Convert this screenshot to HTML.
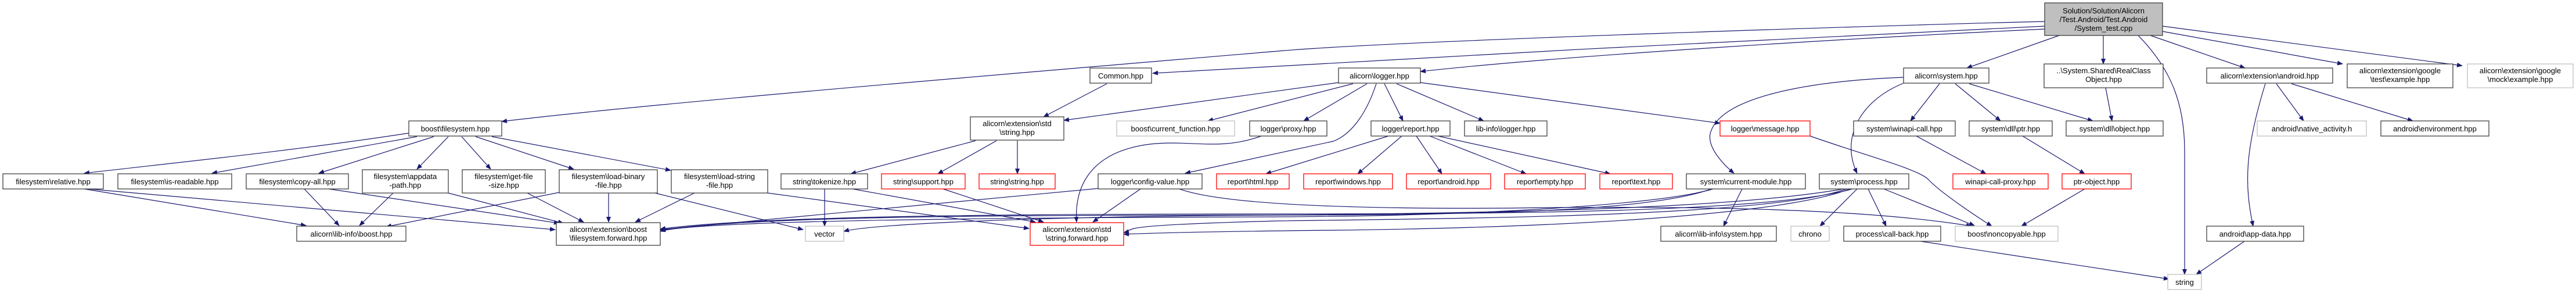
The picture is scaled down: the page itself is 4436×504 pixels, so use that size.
<!DOCTYPE html>
<html><head><meta charset="utf-8"><style>
html,body{margin:0;padding:0;background:#fff;}
svg{display:block;}
text{font-family:"Liberation Sans",sans-serif;font-size:13px;fill:#000;}
.b{fill:#fff;stroke:#404040;stroke-width:1.3;}
.g{fill:#fff;stroke:#bfbfbf;stroke-width:1.3;}
.r{fill:#fff;stroke:#ff0000;stroke-width:1.3;}
.m{fill:#bfbfbf;stroke:#404040;stroke-width:1.3;}
.e{fill:none;stroke:#191970;stroke-width:1.2;marker-end:url(#ah);}
</style></head><body>
<svg width="4436" height="504" viewBox="0 0 4436 504" xmlns="http://www.w3.org/2000/svg">
<defs><marker id="ah" markerWidth="10" markerHeight="8" refX="9" refY="4" orient="auto" markerUnits="userSpaceOnUse"><path d="M0,0 L10,4 L0,8 z" fill="#191970"/></marker></defs>
<g>
<!-- edges -->
<path class="e" d="M3521,37 C3300,42 2400,70 2200,88 C1700,130 1100,180 864,209"/>
<path class="e" d="M3521,45 C3300,55 2300,105 1985,126"/>
<path class="e" d="M3521,50 C3200,65 2700,95 2446,123"/>
<path class="e" d="M3546,61 L3387,117"/>
<path class="e" d="M3622,61 L3622,110"/>
<path class="e" d="M3682,61 C3740,120 3762,180 3762,260 L3762,472"/>
<path class="e" d="M3703,61 L3866,117"/>
<path class="e" d="M3724,54 L4034,110"/>
<path class="e" d="M3724,45 L4240,113"/>
<path class="e" d="M1906,144 L1797,201"/>
<path class="e" d="M2305,142 L1832,207"/>
<path class="e" d="M2330,144 L2080,208"/>
<path class="e" d="M2354,144 L2245,208"/>
<path class="e" d="M2370,144 C2355,190 2330,230 2296,243 L2041,298"/>
<path class="e" d="M2384,144 L2416,208"/>
<path class="e" d="M2405,144 L2555,208"/>
<path class="e" d="M2446,142 L2962,212"/>
<path class="e" d="M704,229 C500,260 300,280 145,298"/>
<path class="e" d="M718,235 L365,298"/>
<path class="e" d="M747,235 L549,298"/>
<path class="e" d="M772,235 L718,291"/>
<path class="e" d="M795,235 L845,291"/>
<path class="e" d="M819,235 L988,291"/>
<path class="e" d="M847,235 L1155,293"/>
<path class="e" d="M145,325 L527,388"/>
<path class="e" d="M152,325 L956,395"/>
<path class="e" d="M524,325 L584,388"/>
<path class="e" d="M566,325 L963,384"/>
<path class="e" d="M677,332 L619,388"/>
<path class="e" d="M772,332 L970,384"/>
<path class="e" d="M908,332 L1005,382"/>
<path class="e" d="M963,331 L665,390"/>
<path class="e" d="M1048,332 L1048,382"/>
<path class="e" d="M1128,332 L1383,395"/>
<path class="e" d="M1196,332 L1094,382"/>
<path class="e" d="M1322,332 L1772,393"/>
<path class="e" d="M1680,242 L1465,299"/>
<path class="e" d="M1716,242 L1615,299"/>
<path class="e" d="M1752,242 L1752,299"/>
<path class="e" d="M1420,325 L1420,389"/>
<path class="e" d="M1468,325 L1783,382"/>
<path class="e" d="M1624,325 L1797,382"/>
<path class="e" d="M1893,324 L1137,395"/>
<path class="e" d="M1964,325 L1882,382"/>
<path class="e" d="M2031,325 C2100,350 2300,360 2600,358 C3000,352 3250,365 3395,389"/>
<path class="e" d="M2172,234 C2100,260 2050,240 1980,248 C1870,262 1850,330 1854,382"/>
<path class="e" d="M2391,234 L2180,299"/>
<path class="e" d="M2414,234 L2338,299"/>
<path class="e" d="M2439,234 L2483,299"/>
<path class="e" d="M2462,234 L2628,299"/>
<path class="e" d="M2476,234 L2773,299"/>
<path class="e" d="M2947,325 C2850,360 2600,370 2200,370 C1700,370 1300,372 1137,396"/>
<path class="e" d="M2950,325 C2850,355 2500,372 2200,373 C1800,374 1200,378 1137,398"/>
<path class="e" d="M3000,325 L2968,389"/>
<path class="e" d="M3180,325 C3050,370 2600,375 2200,380 C1900,388 1960,395 1935,400"/>
<path class="e" d="M3185,325 C3100,360 2800,390 2300,396 C2100,398 2000,400 1935,403"/>
<path class="e" d="M3175,325 C3000,355 2700,365 2200,370 C1800,372 1500,385 1453,398"/>
<path class="e" d="M3190,325 C3050,365 2600,368 2200,368 C1700,368 1300,372 1137,394"/>
<path class="e" d="M3198,325 L3134,389"/>
<path class="e" d="M3217,325 L3248,389"/>
<path class="e" d="M3244,325 L3400,388"/>
<path class="e" d="M3117,234 C3220,270 3300,290 3320,308 C3340,330 3400,370 3430,389"/>
<path class="e" d="M3307,415 L3735,480"/>
<path class="e" d="M3278,133 C3100,140 2960,170 2945,230 C2940,255 2970,285 2986,298"/>
<path class="e" d="M3278,143 C3200,175 3170,240 3198,298"/>
<path class="e" d="M3340,144 L3290,208"/>
<path class="e" d="M3367,144 L3445,208"/>
<path class="e" d="M3391,144 L3604,208"/>
<path class="e" d="M3626,151 L3637,208"/>
<path class="e" d="M3300,234 L3420,299"/>
<path class="e" d="M3483,234 L3590,299"/>
<path class="e" d="M3590,325 L3481,389"/>
<path class="e" d="M3920,144 L3967,208"/>
<path class="e" d="M3946,144 L4155,208"/>
<path class="e" d="M3901,144 C3865,260 3865,320 3880,389"/>
<path class="e" d="M3865,415 L3782,472"/>
</g>
<g>
<!-- nodes -->
<rect class="m" x="3521" y="5" width="203" height="56"/>
<text x="3622.5" y="23" text-anchor="middle">Solution/Solution/Alicorn</text>
<text x="3622.5" y="38" text-anchor="middle">/Test.Android/Test.Android</text>
<text x="3622.5" y="53" text-anchor="middle">/System_test.cpp</text>

<rect class="b" x="1877" y="117" width="106" height="26"/><text x="1930" y="135" text-anchor="middle">Common.hpp</text>
<rect class="b" x="2305" y="117" width="141" height="26"/><text x="2375.5" y="135" text-anchor="middle">alicorn\logger.hpp</text>
<rect class="b" x="3278" y="117" width="147" height="26"/><text x="3351.5" y="135" text-anchor="middle">alicorn\system.hpp</text>
<rect class="b" x="3520" y="110" width="205" height="41"/><text x="3622.5" y="126" text-anchor="middle">..\System.Shared\RealClass</text><text x="3622.5" y="141" text-anchor="middle">Object.hpp</text>
<rect class="b" x="3800" y="117" width="217" height="26"/><text x="3908.5" y="135" text-anchor="middle">alicorn\extension\android.hpp</text>
<rect class="b" x="4042" y="110" width="182" height="41"/><text x="4133" y="126" text-anchor="middle">alicorn\extension\google</text><text x="4133" y="141" text-anchor="middle">\test\example.hpp</text>
<rect class="g" x="4249" y="110" width="182" height="41"/><text x="4340" y="126" text-anchor="middle">alicorn\extension\google</text><text x="4340" y="141" text-anchor="middle">\mock\example.hpp</text>

<rect class="b" x="704" y="208" width="160" height="26"/><text x="784" y="226" text-anchor="middle">boost\filesystem.hpp</text>
<rect class="b" x="1671" y="201" width="161" height="40"/><text x="1751.5" y="217" text-anchor="middle">alicorn\extension\std</text><text x="1751.5" y="232" text-anchor="middle">\string.hpp</text>
<rect class="g" x="1923" y="208" width="203" height="26"/><text x="2024.5" y="226" text-anchor="middle">boost\current_function.hpp</text>
<rect class="b" x="2152" y="208" width="133" height="26"/><text x="2218.5" y="226" text-anchor="middle">logger\proxy.hpp</text>
<rect class="b" x="2361" y="208" width="136" height="26"/><text x="2429" y="226" text-anchor="middle">logger\report.hpp</text>
<rect class="b" x="2522" y="208" width="142" height="26"/><text x="2593" y="226" text-anchor="middle">lib-info\logger.hpp</text>
<rect class="r" x="2962" y="208" width="155" height="26"/><text x="3039.5" y="226" text-anchor="middle">logger\message.hpp</text>
<rect class="b" x="3192" y="208" width="175" height="26"/><text x="3279.5" y="226" text-anchor="middle">system\winapi-call.hpp</text>
<rect class="b" x="3391" y="208" width="143" height="26"/><text x="3462.5" y="226" text-anchor="middle">system\dll\ptr.hpp</text>
<rect class="b" x="3558" y="208" width="167" height="26"/><text x="3641.5" y="226" text-anchor="middle">system\dll\object.hpp</text>
<rect class="g" x="3887" y="208" width="188" height="26"/><text x="3981" y="226" text-anchor="middle">android\native_activity.h</text>
<rect class="b" x="4100" y="208" width="186" height="26"/><text x="4193" y="226" text-anchor="middle">android\environment.hpp</text>

<rect class="b" x="5" y="299" width="173" height="26"/><text x="91.5" y="317" text-anchor="middle">filesystem\relative.hpp</text>
<rect class="b" x="203" y="299" width="196" height="26"/><text x="301" y="317" text-anchor="middle">filesystem\is-readable.hpp</text>
<rect class="b" x="424" y="299" width="176" height="26"/><text x="512" y="317" text-anchor="middle">filesystem\copy-all.hpp</text>
<rect class="b" x="624" y="292" width="148" height="40"/><text x="698" y="308" text-anchor="middle">filesystem\appdata</text><text x="698" y="323" text-anchor="middle">-path.hpp</text>
<rect class="b" x="796" y="292" width="143" height="40"/><text x="867.5" y="308" text-anchor="middle">filesystem\get-file</text><text x="867.5" y="323" text-anchor="middle">-size.hpp</text>
<rect class="b" x="963" y="292" width="169" height="40"/><text x="1047.5" y="308" text-anchor="middle">filesystem\load-binary</text><text x="1047.5" y="323" text-anchor="middle">-file.hpp</text>
<rect class="b" x="1156" y="292" width="166" height="40"/><text x="1239" y="308" text-anchor="middle">filesystem\load-string</text><text x="1239" y="323" text-anchor="middle">-file.hpp</text>
<rect class="b" x="1345" y="299" width="149" height="26"/><text x="1419.5" y="317" text-anchor="middle">string\tokenize.hpp</text>
<rect class="r" x="1518" y="299" width="144" height="26"/><text x="1590" y="317" text-anchor="middle">string\support.hpp</text>
<rect class="r" x="1686" y="299" width="131" height="26"/><text x="1751.5" y="317" text-anchor="middle">string\string.hpp</text>
<rect class="b" x="1891" y="299" width="179" height="26"/><text x="1980.5" y="317" text-anchor="middle">logger\config-value.hpp</text>
<rect class="r" x="2095" y="299" width="125" height="26"/><text x="2157.5" y="317" text-anchor="middle">report\html.hpp</text>
<rect class="r" x="2245" y="299" width="153" height="26"/><text x="2321.5" y="317" text-anchor="middle">report\windows.hpp</text>
<rect class="r" x="2422" y="299" width="145" height="26"/><text x="2494.5" y="317" text-anchor="middle">report\android.hpp</text>
<rect class="r" x="2591" y="299" width="139" height="26"/><text x="2660.5" y="317" text-anchor="middle">report\empty.hpp</text>
<rect class="r" x="2755" y="299" width="125" height="26"/><text x="2817.5" y="317" text-anchor="middle">report\text.hpp</text>
<rect class="b" x="2904" y="299" width="205" height="26"/><text x="3006.5" y="317" text-anchor="middle">system\current-module.hpp</text>
<rect class="b" x="3133" y="299" width="154" height="26"/><text x="3210" y="317" text-anchor="middle">system\process.hpp</text>
<rect class="r" x="3363" y="299" width="164" height="26"/><text x="3445" y="317" text-anchor="middle">winapi-call-proxy.hpp</text>
<rect class="r" x="3551" y="299" width="119" height="26"/><text x="3610.5" y="317" text-anchor="middle">ptr-object.hpp</text>

<rect class="b" x="511" y="389" width="188" height="26"/><text x="605" y="407" text-anchor="middle">alicorn\lib-info\boost.hpp</text>
<rect class="b" x="958" y="383" width="179" height="39"/><text x="1047.5" y="399" text-anchor="middle">alicorn\extension\boost</text><text x="1047.5" y="414" text-anchor="middle">\filesystem.forward.hpp</text>
<rect class="g" x="1387" y="389" width="66" height="26"/><text x="1420" y="407" text-anchor="middle">vector</text>
<rect class="r" x="1774" y="383" width="161" height="39"/><text x="1854.5" y="399" text-anchor="middle">alicorn\extension\std</text><text x="1854.5" y="414" text-anchor="middle">\string.forward.hpp</text>
<rect class="b" x="2860" y="389" width="199" height="26"/><text x="2959.5" y="407" text-anchor="middle">alicorn\lib-info\system.hpp</text>
<rect class="g" x="3084" y="389" width="66" height="26"/><text x="3117" y="407" text-anchor="middle">chrono</text>
<rect class="b" x="3175" y="389" width="167" height="26"/><text x="3258.5" y="407" text-anchor="middle">process\call-back.hpp</text>
<rect class="g" x="3367" y="389" width="177" height="26"/><text x="3455.5" y="407" text-anchor="middle">boost\noncopyable.hpp</text>
<rect class="b" x="3800" y="389" width="167" height="26"/><text x="3883.5" y="407" text-anchor="middle">android\app-data.hpp</text>
<rect class="g" x="3733" y="472" width="58" height="26"/><text x="3762" y="490" text-anchor="middle">string</text>
</g>
</svg>
</body></html>
